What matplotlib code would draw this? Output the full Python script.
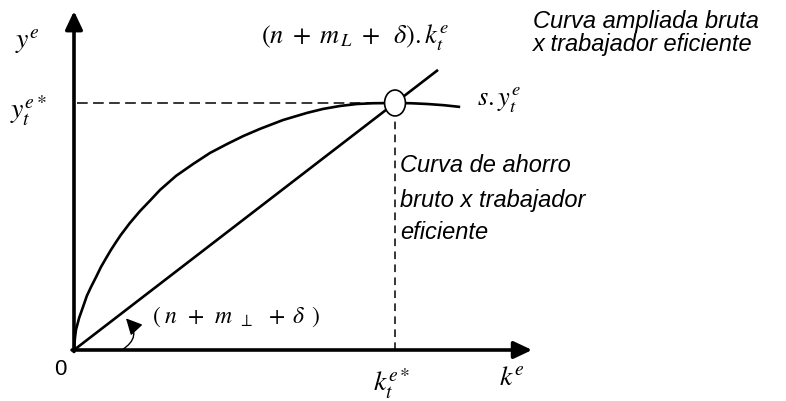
import numpy as np
import matplotlib
matplotlib.use('Agg')
import matplotlib.pyplot as plt
from matplotlib.patches import Ellipse

plt.rcParams['mathtext.fontset'] = 'stix'
plt.rcParams['font.family'] = ['Liberation Sans', 'DejaVu Sans']

# savings curve s.y^e read along its length (k^e, s.y^e)
k_curve = [0.0, 0.03, 0.06, 0.16, 0.28, 0.40, 0.53, 0.69, 0.84, 1.00, 1.15, 1.31,
           1.46, 1.74, 2.06, 2.37, 2.68, 3.18, 3.71, 4.24, 4.77, 5.27, 5.79, 6.51,
           7.26, 7.76, 8.29, 8.82, 9.31, 10.0, 10.50, 11.0, 11.53, 12.03]
s_curve = [0.0, 0.49, 0.81, 1.30, 1.74, 2.19, 2.55, 2.96, 3.36, 3.72, 4.05, 4.37,
           4.66, 5.14, 5.63, 6.05, 6.48, 7.05, 7.53, 7.98, 8.34, 8.66, 8.95, 9.31,
           9.60, 9.76, 9.88, 9.96, 9.99, 10.0, 9.99, 9.96, 9.91, 9.84]

# break-even line (n + m_L + delta).k^e
k_line = [0.0, 11.34]
slope = 1.0

# steady state
k_star = 10.0
y_star = 10.0

fig = plt.figure(figsize=(7.86, 4.01), dpi=100)
ax = fig.add_axes([0, 0, 1, 1])
ax.set_xlim(-2.305, 22.18)
ax.set_ylim(-2.065, 14.17)
ax.axis('off')

# axes with arrow heads
arrow = dict(arrowstyle='-|>,head_length=0.55,head_width=0.26', lw=2.6,
             color='black', mutation_scale=20, shrinkA=0, shrinkB=0)
ax.annotate('', xy=(0, 13.72), xytext=(0, -0.06), arrowprops=arrow)
ax.annotate('', xy=(14.27, 0), xytext=(-0.06, 0), arrowprops=arrow)

ax.plot(k_curve, s_curve, color='black', lw=1.9, solid_capstyle='butt',
        solid_joinstyle='round')
ax.plot(k_line, [slope * k for k in k_line], color='black', lw=1.9,
        solid_capstyle='butt')

# guides to the steady state
ax.plot([0.1, k_star - 0.4], [y_star, y_star], color='black', lw=1.1,
        dashes=(7, 3.5))
ax.plot([k_star, k_star], [0, y_star - 0.6], color='black', lw=1.1,
        dashes=(5, 3.5))

ax.add_patch(Ellipse((k_star, y_star), 0.65, 1.05, facecolor='white',
                     edgecolor='black', lw=1.2, zorder=5))

# slope marker near the origin
ax.annotate('', xy=(1.62, 1.28), xytext=(1.49, 0.0),
            arrowprops=dict(arrowstyle='-|>,head_length=0.7,head_width=0.35',
                            lw=1.0, color='black', mutation_scale=14,
                            shrinkA=0, shrinkB=0,
                            connectionstyle='arc3,rad=0.6'))

mfs = 19
ax.text(-1.46, 12.47, r'$y^{e}$', fontsize=mfs + 1, ha='center', va='center')
ax.text(-1.43, 9.68, r'$y_t^{e*}$', fontsize=mfs + 1, ha='center', va='center')
ax.text(8.75, 12.63, r'$(n\;+\;m_{\,L}\;+\;\;\delta).k_t^{e}$', fontsize=mfs,
        ha='center', va='center')
ax.text(12.55, 10.12, r'$s.y_t^{e}$', fontsize=mfs, ha='left', va='center')
ax.text(2.43, 1.34, r'$(\;n\;\,+\;\,m_{\;\;\perp}\;\;+\;\delta\;\,)$',
        fontsize=17, ha='left', va='center')
ax.text(9.91, -1.38, r'$k_t^{e*}$', fontsize=mfs + 1, ha='center', va='center')
ax.text(13.64, -1.13, r'$k^{e}$', fontsize=mfs + 1, ha='center', va='center')
ax.text(-0.44, -0.77, '0', fontsize=16, ha='center', va='center')

tfs = 17
ax.text(14.30, 13.28, 'Curva ampliada bruta', fontsize=tfs, style='italic',
        ha='left', va='center')
ax.text(14.30, 12.35, 'x trabajador eficiente', fontsize=tfs, style='italic',
        ha='left', va='center')
for yy, line in zip([7.45, 6.07, 4.74],
                    ['Curva de ahorro', 'bruto x trabajador', 'eficiente']):
    ax.text(10.16, yy, line, fontsize=tfs, style='italic', ha='left', va='center')

fig.savefig('out.png', dpi=100)
